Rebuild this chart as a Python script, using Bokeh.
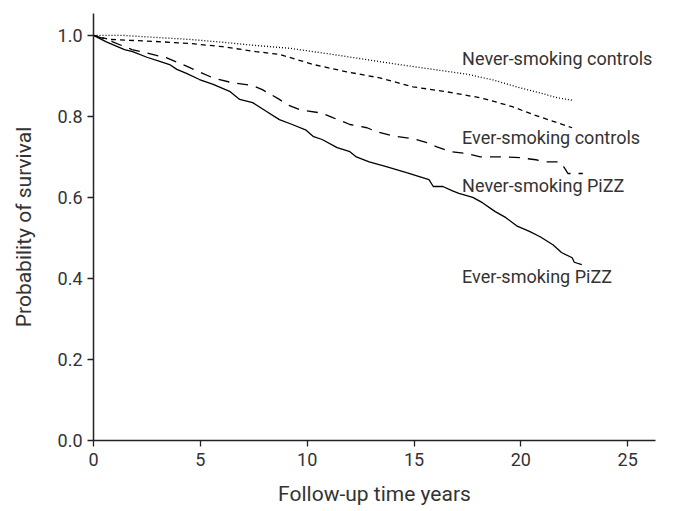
from bokeh.plotting import figure
from bokeh.models import Range1d, Label, FixedTicker, CustomJSTickFormatter
from bokeh.embed import file_html
from bokeh.resources import INLINE

# Follow-up time (years) and survival probabilities
ever_pizz_t = [0, 0.6, 1.45, 1.83, 2.5, 3.1, 3.56, 3.9, 4.35, 4.96, 5.6, 6.37, 6.84, 7.45, 8.1, 8.7, 9.3,
               9.95, 10.3, 10.7, 11.4, 12.0, 12.3, 12.9, 13.7, 14.65, 15.1, 15.7, 15.9, 16.35, 16.8, 17.1,
               17.75, 18.2, 18.8, 19.3, 19.8, 20.4, 20.9, 21.5, 21.9, 22.4, 22.5, 22.85]
ever_pizz_s = [1.0, 0.984, 0.965, 0.96, 0.946, 0.936, 0.928, 0.916, 0.906, 0.891, 0.879, 0.862, 0.842,
               0.834, 0.812, 0.792, 0.78, 0.766, 0.75, 0.743, 0.723, 0.713, 0.70, 0.688, 0.676, 0.661,
               0.654, 0.644, 0.627, 0.627, 0.616, 0.61, 0.60, 0.587, 0.565, 0.55, 0.53, 0.516, 0.503,
               0.483, 0.464, 0.451, 0.44, 0.434]

never_pizz_t = [0, 0.6, 1.8, 3.4, 4.35, 5.6, 6.5, 7.45, 7.9, 8.7, 9.0, 9.7, 10.7, 11.2, 12.0, 12.8, 13.25,
                14.0, 14.95, 15.6, 16.07, 16.7, 17.5, 18.1, 19.3, 19.95, 20.7, 21.2, 21.8, 22.0, 22.1,
                22.2, 22.9]
never_pizz_s = [1.0, 0.99, 0.965, 0.945, 0.924, 0.895, 0.883, 0.876, 0.866, 0.842, 0.83, 0.816, 0.808,
                0.797, 0.78, 0.772, 0.762, 0.752, 0.745, 0.735, 0.725, 0.713, 0.708, 0.70, 0.70, 0.698,
                0.693, 0.688, 0.688, 0.676, 0.668, 0.659, 0.659]

ever_ctrl_t = [0, 0.75, 2.9, 4.5, 6.05, 7.6, 8.7, 10.3, 11.85, 13.4, 14.95, 16.5, 18.1, 18.4, 19.6, 20.6, 22.4]
ever_ctrl_s = [1.0, 0.99, 0.985, 0.98, 0.972, 0.96, 0.953, 0.928, 0.91, 0.895, 0.873, 0.861, 0.846,
               0.842, 0.824, 0.804, 0.772]

never_ctrl_t = [0, 1.35, 2.9, 4.5, 6.05, 7.6, 9.2, 11.2, 12.8, 14.3, 15.9, 17.5, 18.7, 19.8, 20.9, 21.7, 22.4]
never_ctrl_s = [1.0, 1.0, 0.995, 0.99, 0.983, 0.975, 0.968, 0.953, 0.94, 0.928, 0.916, 0.904, 0.89,
                0.873, 0.858, 0.846, 0.84]

x_ticks = [0, 5, 10, 15, 20, 25]
y_ticks = [0.0, 0.2, 0.4, 0.6, 0.8, 1.0]

FONT = "Roboto"
TXT = "#333333"

p = figure(width=670, height=509, output_backend="svg", toolbar_location=None,
           x_range=Range1d(0, 26.3), y_range=Range1d(0, 1.054),
           min_border_left=93, min_border_right=15, min_border_top=13, min_border_bottom=69)
p.outline_line_color = None
p.grid.grid_line_color = None

p.line(never_ctrl_t, never_ctrl_s, line_color="black", line_width=1.3, line_dash="1 2")
p.line(ever_ctrl_t, ever_ctrl_s, line_color="black", line_width=1.3, line_dash="5 4")
p.line(never_pizz_t, never_pizz_s, line_color="black", line_width=1.3, line_dash="11 8")
p.line(ever_pizz_t, ever_pizz_s, line_color="black", line_width=1.3)

for ax in (p.xaxis[0], p.yaxis[0]):
    ax.axis_line_color = "#222222"
    ax.axis_line_width = 1.5
    ax.major_tick_line_color = "#222222"
    ax.major_tick_line_width = 1.3
    ax.major_tick_in = 0
    ax.major_tick_out = 6
    ax.minor_tick_line_color = None
    ax.major_label_text_font = FONT
    ax.major_label_text_font_size = "18px"
    ax.major_label_text_color = TXT
    ax.axis_label_text_font = FONT
    ax.axis_label_text_font_size = "21px"
    ax.axis_label_text_font_style = "normal"
    ax.axis_label_text_color = TXT

p.xaxis.ticker = FixedTicker(ticks=x_ticks)
p.yaxis.ticker = FixedTicker(ticks=y_ticks)
p.yaxis.formatter = CustomJSTickFormatter(code="return tick.toFixed(1);")
p.xaxis.axis_label = "Follow-up time years"
p.yaxis.axis_label = "Probability of survival"
p.xaxis.major_label_standoff = 6
p.yaxis.major_label_standoff = 5
p.xaxis.axis_label_standoff = 13
p.yaxis.axis_label_standoff = 19

labels = [("Never-smoking controls", 17.25, 0.942),
          ("Ever-smoking controls", 17.25, 0.747),
          ("Never-smoking PiZZ", 17.25, 0.629),
          ("Ever-smoking PiZZ", 17.25, 0.404)]
for txt, lx, ly in labels:
    p.add_layout(Label(x=lx, y=ly, text=txt, text_font=FONT, text_font_size="18px",
                       text_color=TXT, text_baseline="middle", text_align="left"))

open("out.html", "w").write(file_html(p, INLINE))
